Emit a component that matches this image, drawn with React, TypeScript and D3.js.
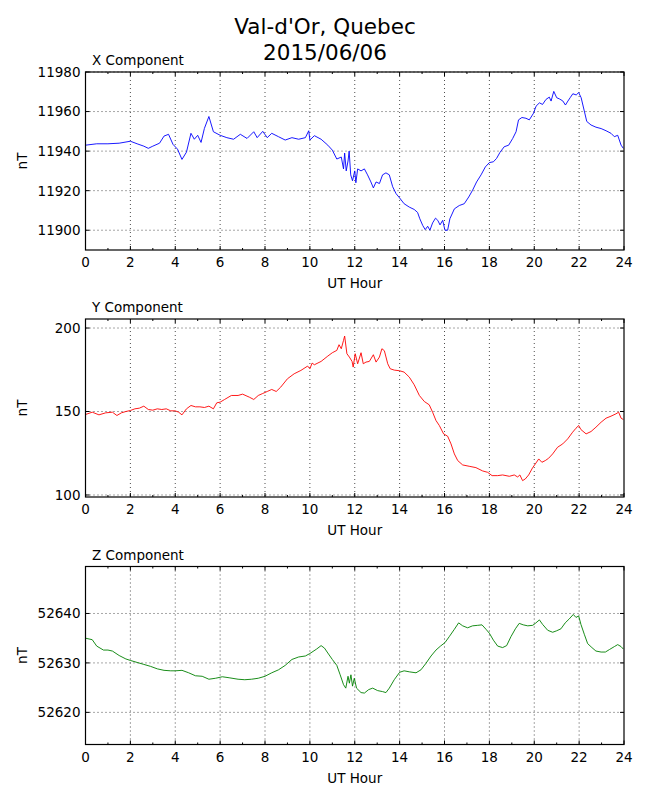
import { useRef, useEffect } from 'react';
import * as d3 from 'd3';

// values, [UT hour, nT]
const xComponent: [number, number][] = [
  [0, 11943], [0.5, 11943.7], [1, 11943.7], [1.5, 11944], [2, 11945], [2.3, 11943.7], [2.6, 11942.5],
  [2.8, 11941.4], [3, 11942.5], [3.3, 11944], [3.5, 11947.6], [3.7, 11948.5], [3.9, 11943.4],
  [4.1, 11941], [4.3, 11935.8], [4.5, 11939.5], [4.7, 11949], [4.85, 11946], [5, 11948],
  [5.15, 11944.4], [5.3, 11951.5], [5.5, 11957.5], [5.7, 11949.8], [6, 11948], [6.3, 11946.8],
  [6.6, 11946], [6.9, 11948.5], [7.2, 11946.4], [7.5, 11949.8], [7.65, 11946.8], [7.9, 11950],
  [8.1, 11946.8], [8.3, 11949], [8.6, 11947.3], [8.9, 11945.6], [9.2, 11946.8], [9.5, 11946],
  [9.8, 11946.8], [9.95, 11950.3], [10, 11945.6], [10.2, 11947.8], [10.5, 11946], [10.8, 11943],
  [11, 11940.5], [11.2, 11936], [11.4, 11937], [11.5, 11931], [11.55, 11939], [11.62, 11930],
  [11.7, 11935], [11.75, 11940], [11.82, 11928], [11.9, 11925], [12, 11930], [12.05, 11924],
  [12.13, 11931], [12.28, 11930], [12.43, 11931], [12.57, 11928], [12.72, 11924.4], [12.83, 11921.4],
  [12.95, 11924.4], [13.1, 11923.6], [13.24, 11928], [13.39, 11929], [13.54, 11928], [13.69, 11922],
  [13.84, 11918.5], [14, 11916.3], [14.2, 11913.4], [14.43, 11911.7], [14.65, 11910.5], [14.8, 11909],
  [14.9, 11905.8], [15.03, 11902.4], [15.14, 11900.3], [15.25, 11902], [15.35, 11900], [15.47, 11903.7],
  [15.6, 11906.1], [15.7, 11905], [15.8, 11902.7], [15.92, 11905], [16.02, 11900], [16.14, 11900],
  [16.24, 11905.8], [16.44, 11910.8], [16.66, 11912.5], [16.88, 11913.4], [17.08, 11916.8],
  [17.25, 11920.2], [17.43, 11924.4], [17.63, 11928], [17.82, 11932], [18, 11934.2], [18.18, 11934.6],
  [18.32, 11936.3], [18.47, 11939.3], [18.66, 11942.2], [18.86, 11943], [19.04, 11946.4],
  [19.19, 11949.8], [19.3, 11955.8], [19.45, 11957], [19.63, 11956.6], [19.78, 11955.8],
  [19.97, 11959.2], [20.08, 11962.7], [20.23, 11964.4], [20.37, 11963.6], [20.52, 11966.1],
  [20.67, 11967.3], [20.75, 11965.3], [20.87, 11970.2], [21, 11967], [21.12, 11966.4], [21.27, 11965.4],
  [21.39, 11963.3], [21.5, 11965.3], [21.6, 11967], [21.72, 11969], [21.87, 11968.4], [21.98, 11969.6],
  [22.09, 11967], [22.23, 11960.3], [22.34, 11955], [22.53, 11953.2], [22.75, 11952.1], [22.98, 11951.4],
  [23.2, 11950.3], [23.42, 11949], [23.57, 11947.3], [23.72, 11948], [23.87, 11943], [23.97, 11941.4],
];

const yComponent: [number, number][] = [
  [0, 148.2], [0.3, 149.6], [0.6, 148], [0.9, 149.2], [1.2, 149.6], [1.4, 147.6], [1.6, 149.2],
  [1.8, 150], [2, 150.6], [2.2, 151.6], [2.4, 152], [2.6, 153.2], [2.8, 151.2], [3, 150.8],
  [3.2, 151.6], [3.4, 151.2], [3.6, 151.6], [3.8, 150.4], [4, 150.4], [4.15, 149.6], [4.3, 148],
  [4.5, 151.6], [4.7, 153.6], [4.9, 152.8], [5.1, 152.8], [5.3, 152.4], [5.5, 153.2], [5.7, 151.6],
  [5.85, 155.2], [6, 155.6], [6.2, 157.2], [6.5, 159.6], [6.8, 159.6], [7, 160.4], [7.3, 158.6],
  [7.5, 157.2], [7.7, 159.6], [7.9, 160.8], [8.1, 162], [8.3, 163.2], [8.5, 162], [8.7, 164.6],
  [9, 169.6], [9.3, 172.6], [9.6, 174.6], [9.9, 177.2], [10, 175.6], [10.1, 179], [10.2, 178],
  [10.5, 180], [10.8, 183.2], [11, 185.2], [11.2, 186.6], [11.3, 190], [11.4, 187.6], [11.5, 192.6],
  [11.55, 195.2], [11.65, 184.6], [11.76, 182.6], [11.88, 180], [11.93, 176.6], [12.02, 184.6],
  [12.13, 178.6], [12.28, 185.2], [12.38, 178.6], [12.5, 179.6], [12.65, 180], [12.83, 184],
  [12.95, 179.6], [13.1, 182.6], [13.21, 187.6], [13.32, 186.4], [13.47, 178.6], [13.58, 175.6],
  [13.76, 174.8], [14, 174.4], [14.2, 173.6], [14.43, 170.6], [14.65, 166], [14.88, 159.6],
  [15.1, 156], [15.32, 154], [15.47, 149.6], [15.62, 144.6], [15.77, 141.6], [15.96, 136.6],
  [16.14, 135.2], [16.29, 130.6], [16.44, 124.6], [16.59, 120.6], [16.81, 118], [17.1, 117.2],
  [17.4, 116.4], [17.7, 114.4], [17.92, 113.6], [18.12, 111.6], [18.37, 111.6], [18.59, 112],
  [18.89, 111.2], [19.11, 112], [19.26, 110.8], [19.36, 112], [19.48, 108.6], [19.6, 109.6],
  [19.75, 112], [19.93, 116.4], [20.08, 119.2], [20.2, 121.6], [20.34, 119.6], [20.49, 120.6],
  [20.64, 122], [20.82, 124.6], [21.04, 128.6], [21.27, 130.6], [21.49, 133.6], [21.71, 137.6],
  [21.86, 140], [21.98, 141.6], [22.08, 139.2], [22.31, 136.6], [22.53, 138], [22.75, 140.6],
  [22.98, 143.6], [23.2, 146], [23.42, 147.2], [23.64, 148.6], [23.76, 149.6], [23.87, 146],
  [23.97, 145.2],
];

const zComponent: [number, number][] = [
  [0, 52635], [0.3, 52634.7], [0.5, 52633.4], [0.8, 52632.6], [1, 52632.6], [1.2, 52632.4],
  [1.5, 52631.5], [1.8, 52630.8], [2, 52630.5], [2.3, 52630.1], [2.6, 52629.7], [2.9, 52629.3],
  [3.2, 52628.8], [3.5, 52628.5], [3.8, 52628.4], [4, 52628.4], [4.3, 52628.5], [4.6, 52628],
  [4.9, 52627.4], [5.2, 52627.3], [5.5, 52626.7], [5.8, 52626.9], [6.1, 52627.2], [6.4, 52627],
  [6.8, 52626.7], [7.1, 52626.6], [7.4, 52626.7], [7.7, 52626.9], [8, 52627.3], [8.3, 52628],
  [8.6, 52628.6], [8.9, 52629.5], [9.2, 52630.7], [9.5, 52631.2], [9.8, 52631.4], [10, 52631.9],
  [10.3, 52632.8], [10.5, 52633.5], [10.65, 52633], [10.8, 52632], [11, 52630.7], [11.2, 52629.5],
  [11.35, 52627.6], [11.5, 52625.6], [11.6, 52624.9], [11.7, 52627.3], [11.76, 52625.9],
  [11.83, 52627.6], [11.9, 52625.3], [11.98, 52626.9], [12.08, 52624.9], [12.28, 52624],
  [12.43, 52623.9], [12.62, 52624.6], [12.8, 52624.9], [13.02, 52624.4], [13.24, 52624.2],
  [13.39, 52624], [13.54, 52624.9], [13.76, 52626.6], [14, 52628.1], [14.2, 52628.4], [14.43, 52628.2],
  [14.73, 52628], [14.95, 52628.6], [15.17, 52629.9], [15.4, 52631.4], [15.62, 52632.6],
  [15.82, 52633.4], [16.02, 52634.1], [16.21, 52635.3], [16.44, 52636.8], [16.63, 52638.1],
  [16.81, 52637.5], [17.03, 52637.1], [17.25, 52637.5], [17.48, 52637.6], [17.67, 52637.7],
  [17.85, 52636.8], [18, 52636], [18.18, 52634.6], [18.37, 52633.4], [18.59, 52633.1],
  [18.77, 52633.5], [18.96, 52635.3], [19.16, 52636.9], [19.33, 52638], [19.51, 52637.7],
  [19.71, 52637.5], [19.93, 52637.6], [20.05, 52638], [20.23, 52638.7], [20.37, 52637.8],
  [20.6, 52636.6], [20.82, 52636.2], [21, 52636.5], [21.19, 52636.9], [21.38, 52638.1],
  [21.56, 52638.9], [21.74, 52639.8], [21.86, 52639.2], [21.98, 52639.5], [22.08, 52637.8],
  [22.23, 52635.8], [22.38, 52633.9], [22.57, 52633.1], [22.75, 52632.4], [22.98, 52632.2],
  [23.17, 52632.2], [23.35, 52632.7], [23.57, 52633.3], [23.72, 52633.7], [23.87, 52633.3],
  [23.97, 52632.8],
];

const hourTicks = [0, 2, 4, 6, 8, 10, 12, 14, 16, 18, 20, 22, 24];
const xTicksNT = [11900, 11920, 11940, 11960, 11980];
const yTicksNT = [100, 150, 200];
const zTicksNT = [52620, 52630, 52640];

const titleLines = ["Val-d'Or, Quebec", '2015/06/06'];

const FONT = '"DejaVu Sans", sans-serif';

const panels = [
  { title: 'X Component', data: xComponent, color: '#0000ff', domain: [11890, 11980], ticks: xTicksNT, top: 72 },
  { title: 'Y Component', data: yComponent, color: '#ff0000', domain: [98.8, 205.4], ticks: yTicksNT, top: 319 },
  { title: 'Z Component', data: zComponent, color: '#008000', domain: [52613.5, 52649.5], ticks: zTicksNT, top: 566.5 },
];

export default function App() {
  const svgRef = useRef<SVGSVGElement>(null);

  useEffect(() => {
    if (!svgRef.current) return;
    const svg = d3.select(svgRef.current);
    svg.selectAll('*').remove();

    const left = 85.5;
    const right = 624;
    const plotH = 178;

    // Figure title
    svg.append('text')
      .attr('x', 325)
      .attr('y', 34)
      .attr('text-anchor', 'middle')
      .attr('font-family', FONT)
      .attr('font-size', '21.5px')
      .selectAll('tspan')
      .data(titleLines)
      .join('tspan')
      .attr('x', 325)
      .attr('dy', (_, i) => (i === 0 ? 0 : 26))
      .text(d => d);

    const xScale = d3.scaleLinear().domain([0, 24]).range([left, right]);

    panels.forEach(p => {
      const top = p.top;
      const bottom = top + plotH;
      const yScale = d3.scaleLinear().domain(p.domain).range([bottom, top]);
      const g = svg.append('g');

      // Grid
      g.selectAll('.vgrid')
        .data(hourTicks.slice(1, -1))
        .join('line')
        .attr('x1', d => xScale(d)).attr('x2', d => xScale(d))
        .attr('y1', top).attr('y2', bottom)
        .attr('stroke', '#000').attr('stroke-width', 0.7)
        .attr('stroke-dasharray', '1,3');
      g.selectAll('.hgrid')
        .data(p.ticks)
        .join('line')
        .attr('x1', left).attr('x2', right)
        .attr('y1', d => yScale(d)).attr('y2', d => yScale(d))
        .attr('stroke', '#000').attr('stroke-width', 0.7)
        .attr('stroke-dasharray', '1,3');

      // Series
      const line = d3.line<[number, number]>()
        .x(d => xScale(d[0]))
        .y(d => yScale(d[1]));
      g.append('path')
        .datum(p.data)
        .attr('fill', 'none')
        .attr('stroke', p.color)
        .attr('stroke-width', 0.9)
        .attr('d', line);

      // Ticks, inward on all four sides
      const minor = d3.range(0, 25, 1);
      minor.forEach(h => {
        const len = h % 2 === 0 ? 4 : 2;
        g.append('line').attr('x1', xScale(h)).attr('x2', xScale(h))
          .attr('y1', bottom).attr('y2', bottom - len).attr('stroke', '#000');
        g.append('line').attr('x1', xScale(h)).attr('x2', xScale(h))
          .attr('y1', top).attr('y2', top + len).attr('stroke', '#000');
      });
      p.ticks.forEach(t => {
        g.append('line').attr('x1', left).attr('x2', left + 4)
          .attr('y1', yScale(t)).attr('y2', yScale(t)).attr('stroke', '#000');
        g.append('line').attr('x1', right).attr('x2', right - 4)
          .attr('y1', yScale(t)).attr('y2', yScale(t)).attr('stroke', '#000');
      });

      // Frame
      g.append('rect')
        .attr('x', left).attr('y', top)
        .attr('width', right - left).attr('height', plotH)
        .attr('fill', 'none').attr('stroke', '#000').attr('stroke-width', 1.2);

      // Tick labels
      g.selectAll('.xl')
        .data(hourTicks)
        .join('text')
        .attr('x', d => xScale(d))
        .attr('y', bottom + 17)
        .attr('text-anchor', 'middle')
        .attr('font-family', FONT)
        .attr('font-size', '13.5px')
        .text(d => String(d));
      g.selectAll('.yl')
        .data(p.ticks)
        .join('text')
        .attr('x', left - 5)
        .attr('y', d => yScale(d))
        .attr('dy', '0.36em')
        .attr('text-anchor', 'end')
        .attr('font-family', FONT)
        .attr('font-size', '13.5px')
        .text(d => String(d));

      // Axis labels and panel title
      g.append('text')
        .attr('x', (left + right) / 2)
        .attr('y', bottom + 38)
        .attr('text-anchor', 'middle')
        .attr('font-family', FONT)
        .attr('font-size', '13.5px')
        .text('UT Hour');
      g.append('text')
        .attr('transform', `translate(27,${top + plotH / 2}) rotate(-90)`)
        .attr('text-anchor', 'middle')
        .attr('font-family', FONT)
        .attr('font-size', '13.5px')
        .text('nT');
      g.append('text')
        .attr('x', left + 6.5)
        .attr('y', top - 7)
        .attr('font-family', FONT)
        .attr('font-size', '13.5px')
        .text(p.title);
    });
  }, []);

  return (
    <svg
      ref={svgRef}
      width={650}
      height={800}
      style={{ position: 'absolute', left: 0, top: 0, background: '#fff' }}
    />
  );
}
